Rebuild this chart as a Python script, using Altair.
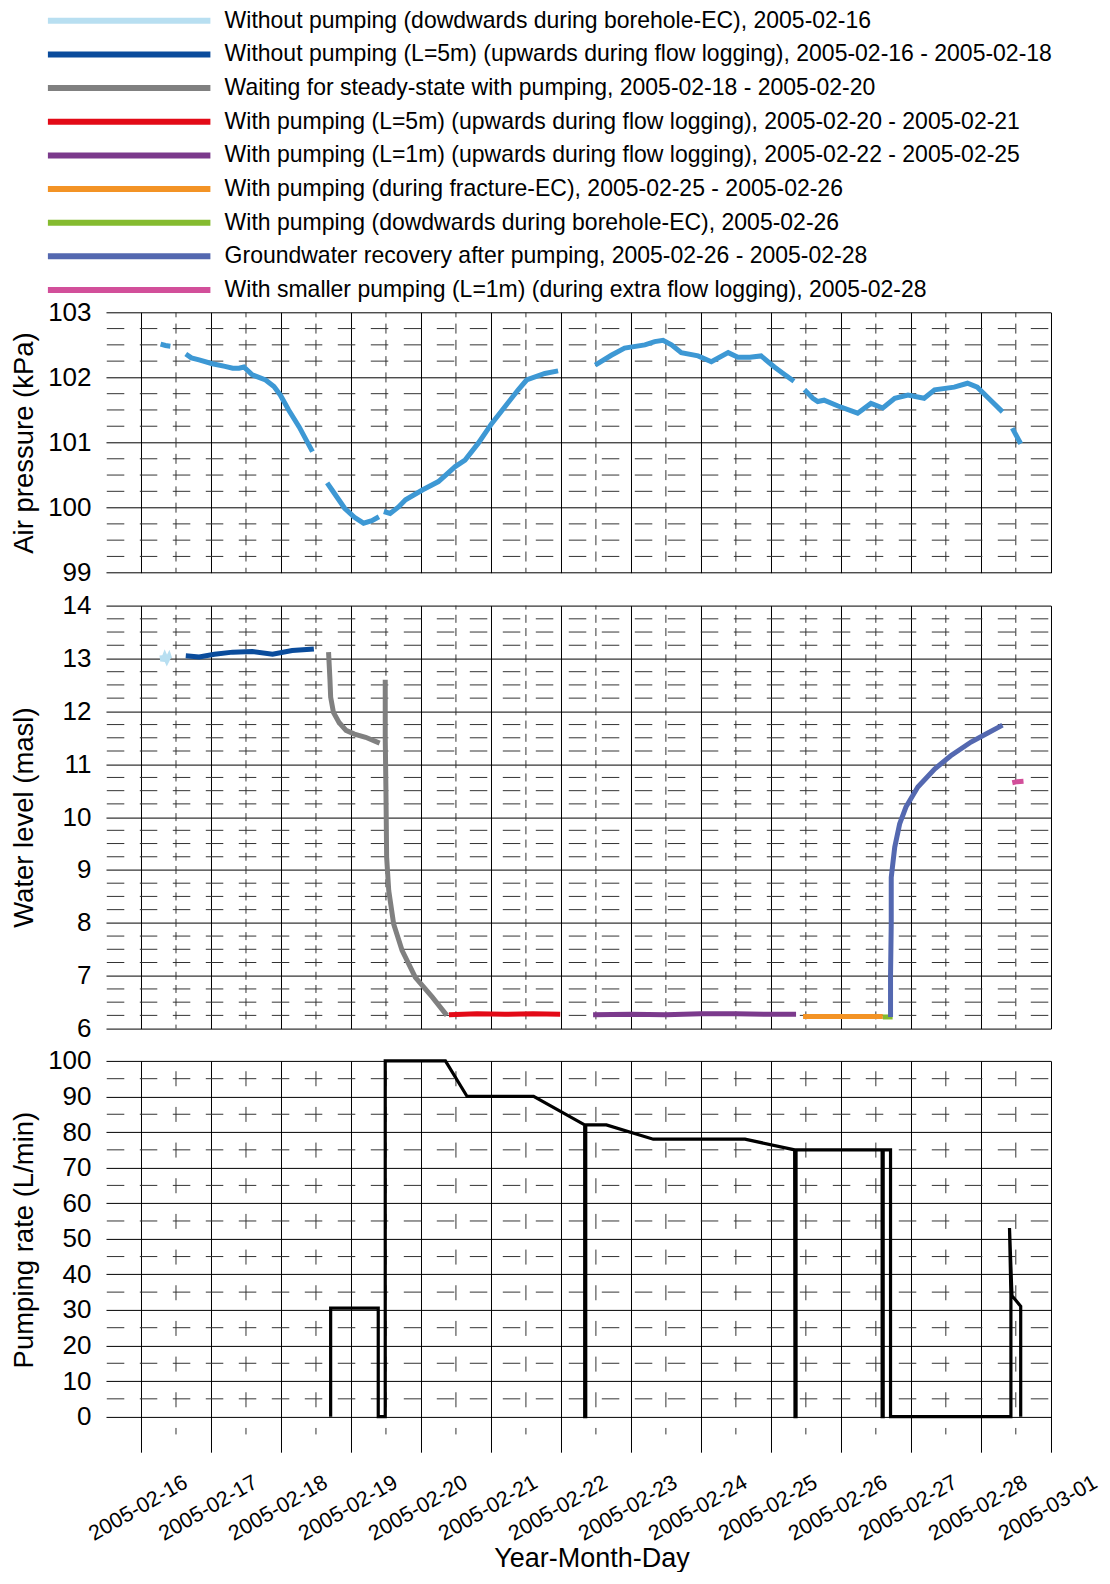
import altair as alt
import pandas as pd

FONT = "Liberation Sans"
MAJOR = "#000000"
MINOR = "#333333"
AIR_COLOR = "#3D98D4"

# ---------------- axis ticks ----------------
TICK_DATES = ["2005-02-16", "2005-02-17", "2005-02-18", "2005-02-19", "2005-02-20",
              "2005-02-21", "2005-02-22", "2005-02-23", "2005-02-24", "2005-02-25",
              "2005-02-26", "2005-02-27", "2005-02-28", "2005-03-01"]
HALF_DAY_DATES = ["2005-02-16T12:00", "2005-02-17T12:00", "2005-02-18T12:00", "2005-02-19T12:00",
                  "2005-02-20T12:00", "2005-02-21T12:00", "2005-02-22T12:00", "2005-02-23T12:00",
                  "2005-02-24T12:00", "2005-02-25T12:00", "2005-02-26T12:00", "2005-02-27T12:00",
                  "2005-02-28T12:00"]
X_START = "2005-02-15T12:00"
X_END = "2005-03-01T00:00"

AIR_TICKS = [99, 100, 101, 102, 103]
AIR_MINOR = [99.25, 99.5, 99.75, 100.25, 100.5, 100.75, 101.25, 101.5, 101.75, 102.25, 102.5, 102.75]
WATER_TICKS = [6, 7, 8, 9, 10, 11, 12, 13, 14]
WATER_MINOR = [6.25, 6.5, 6.75, 7.25, 7.5, 7.75, 8.25, 8.5, 8.75, 9.25, 9.5, 9.75, 10.25, 10.5, 10.75,
               11.25, 11.5, 11.75, 12.25, 12.5, 12.75, 13.25, 13.5, 13.75]
PUMP_TICKS = [0, 10, 20, 30, 40, 50, 60, 70, 80, 90, 100]
PUMP_MINOR = [5, 15, 25, 35, 45, 55, 65, 75, 85, 95]

# ---------------- air pressure (day of Feb 2005, kPa) ----------------
AIR_1 = [(16.28, 102.51), (16.35, 102.49), (16.42, 102.48)]
AIR_2 = [(16.64, 102.36), (16.72, 102.30), (16.83, 102.27), (17.02, 102.21), (17.20, 102.17),
         (17.31, 102.14), (17.40, 102.14), (17.47, 102.16), (17.59, 102.04), (17.78, 101.96),
         (17.90, 101.86), (17.99, 101.73), (18.11, 101.50), (18.26, 101.24), (18.45, 100.86)]
AIR_3 = [(18.66, 100.38), (18.73, 100.27), (18.91, 99.99), (19.05, 99.85), (19.18, 99.76),
         (19.30, 99.80), (19.40, 99.86)]
AIR_4 = [(19.47, 99.94), (19.56, 99.91), (19.68, 100.01), (19.78, 100.12), (20.02, 100.27),
         (20.25, 100.40), (20.49, 100.63), (20.63, 100.73), (20.82, 100.99), (21.01, 101.29),
         (21.20, 101.55), (21.39, 101.81), (21.51, 101.96), (21.77, 102.06), (21.96, 102.10)]
AIR_5 = [(22.49, 102.19), (22.72, 102.34), (22.91, 102.45), (23.20, 102.50), (23.34, 102.55),
         (23.46, 102.57), (23.58, 102.50), (23.72, 102.38), (23.96, 102.33), (24.15, 102.24),
         (24.39, 102.38), (24.53, 102.31), (24.70, 102.31), (24.86, 102.33), (25.05, 102.16),
         (25.20, 102.04), (25.33, 101.94)]
AIR_6 = [(25.48, 101.81), (25.60, 101.68), (25.67, 101.63), (25.76, 101.65), (25.96, 101.56),
         (26.24, 101.45), (26.43, 101.60), (26.60, 101.53), (26.77, 101.68), (26.96, 101.73),
         (27.19, 101.68), (27.34, 101.81), (27.62, 101.85), (27.81, 101.91), (27.95, 101.85),
         (28.14, 101.65), (28.31, 101.47)]
AIR_7 = [(28.45, 101.22), (28.57, 100.98)]
AIR_SEGMENTS = [AIR_1, AIR_2, AIR_3, AIR_4, AIR_5, AIR_6, AIR_7]

# ---------------- water level (day, masl) per series ----------------
SERIES_NAMES = [
    "Without pumping (dowdwards during borehole-EC), 2005-02-16",
    "Without pumping (L=5m) (upwards during flow logging), 2005-02-16 - 2005-02-18",
    "Waiting for steady-state with pumping, 2005-02-18 - 2005-02-20",
    "With pumping (L=5m) (upwards during flow logging), 2005-02-20 - 2005-02-21",
    "With pumping (L=1m) (upwards during flow logging), 2005-02-22 - 2005-02-25",
    "With pumping (during fracture-EC), 2005-02-25 - 2005-02-26",
    "With pumping (dowdwards during borehole-EC), 2005-02-26",
    "Groundwater recovery after pumping, 2005-02-26 - 2005-02-28",
    "With smaller pumping (L=1m) (during extra flow logging), 2005-02-28",
]
SERIES_COLORS = ["#B8DFF1", "#0A4C9C", "#808080", "#E30A17", "#7B3A8C",
                 "#F39325", "#85BB2F", "#5468B0", "#D24F9A"]

WL_EC_NOPUMP = [[(16.30, 13.06), (16.31, 12.95), (16.34, 13.05), (16.37, 12.96), (16.40, 13.04),
                 (16.41, 13.00)]]
WL_FLOW_NOPUMP = [[(16.64, 13.05), (16.83, 13.03), (17.05, 13.08), (17.31, 13.12), (17.59, 13.13),
                   (17.88, 13.08), (18.16, 13.15), (18.47, 13.18)]]
WL_WAITING = [
    [(18.68, 13.12), (18.70, 12.60), (18.71, 12.27), (18.75, 11.98), (18.83, 11.79),
     (18.93, 11.64), (19.05, 11.57), (19.21, 11.51), (19.41, 11.40)],
    [(19.49, 12.60), (19.49, 11.50), (19.50, 10.50), (19.51, 9.24), (19.54, 8.61),
     (19.61, 7.98), (19.73, 7.48), (19.92, 6.97), (20.16, 6.60), (20.37, 6.25)],
]
WL_FLOW_5M = [[(20.40, 6.26), (20.80, 6.28), (21.20, 6.27), (21.60, 6.28), (21.99, 6.27)]]
WL_FLOW_1M = [[(22.46, 6.26), (23.00, 6.27), (23.50, 6.26), (24.00, 6.28), (24.50, 6.28),
               (25.00, 6.27), (25.36, 6.27)]]
WL_FRACTURE_EC = [[(25.46, 6.23), (26.00, 6.23), (26.60, 6.23)]]
WL_EC_PUMP = [[(26.60, 6.22), (26.74, 6.22)]]
WL_RECOVERY = [[(26.71, 6.22), (26.71, 7.00), (26.72, 7.98), (26.72, 8.86), (26.77, 9.43),
                (26.84, 9.87), (26.93, 10.19), (27.10, 10.57), (27.34, 10.91), (27.57, 11.16),
                (27.86, 11.42), (28.10, 11.59), (28.31, 11.74)]]
WL_SMALL_PUMP = [[(28.45, 10.65), (28.52, 10.67), (28.61, 10.68)]]
WATER_SERIES = [WL_EC_NOPUMP, WL_FLOW_NOPUMP, WL_WAITING, WL_FLOW_5M, WL_FLOW_1M,
                WL_FRACTURE_EC, WL_EC_PUMP, WL_RECOVERY, WL_SMALL_PUMP]

# ---------------- pumping rate (day, L/min), in drawing order ----------------
PUMP_DAYS = [18.71, 18.71, 19.39, 19.39, 19.49, 19.49, 20.35, 20.66, 21.61, 22.34, 22.34,
             22.355, 22.355, 22.65, 23.32, 24.63, 25.34, 25.345, 25.36, 25.36, 26.59, 26.59,
             26.605, 26.605, 26.71, 26.71, 28.43, 28.43, 28.41, 28.445, 28.57, 28.57]
PUMP_RATE = [0, 30.5, 30.5, 0, 0, 100, 100, 90, 90, 82, 0,
             0, 82, 82, 78, 78, 75, 0, 0, 75, 75, 0,
             0, 75, 75, 0, 0, 34, 53, 34, 31, 0]


def feb(day):
    return pd.Timestamp("2005-02-01") + pd.Timedelta(days=day - 1)


def to_dt(s):
    ts = pd.Timestamp(s)
    return alt.DateTime(year=ts.year, month=ts.month, date=ts.day, hours=ts.hour)


air_rows = []
for k, seg in enumerate(AIR_SEGMENTS):
    for j, (d, v) in enumerate(seg):
        air_rows.append({"t": feb(d), "val": v, "seg": k, "i": j})
air_df = pd.DataFrame(air_rows)

water_rows = []
seg_id = 0
for name, segs in zip(SERIES_NAMES, WATER_SERIES):
    for seg in segs:
        for j, (d, v) in enumerate(seg):
            water_rows.append({"t": feb(d), "val": v, "series": name, "seg": seg_id, "i": j})
        seg_id += 1
water_df = pd.DataFrame(water_rows)

pump_df = pd.DataFrame({"t": [feb(d) for d in PUMP_DAYS], "val": PUMP_RATE,
                        "i": list(range(len(PUMP_DAYS)))})

legend_df = pd.DataFrame({"name": SERIES_NAMES})

W = 944.8
H_LEG = 272
H_AIR = 260.4
H_WATER = 423
H_PUMP = 391.3

X_SCALE = alt.Scale(domain=[to_dt(X_START), to_dt(X_END)])
AIR_Y = alt.Scale(domain=[99, 103], nice=False, zero=False)
WATER_Y = alt.Scale(domain=[6, 14], nice=False, zero=False)
PUMP_Y = alt.Scale(domain=[-10, 100], nice=False, zero=False)
COLOR_SCALE = alt.Scale(domain=SERIES_NAMES, range=SERIES_COLORS)

TICK_VALUES = [to_dt(s) for s in TICK_DATES]


def x_axis(with_labels):
    if with_labels:
        return alt.Axis(values=TICK_VALUES, format="%Y-%m-%d", labelAngle=330,
                        labelAlign="center", labelBaseline="middle", labelPadding=56,
                        labelOffset=-3,
                        labelFontSize=21.5, labelFont=FONT, labelColor="black",
                        labelFlush=False, labelOverlap=False,
                        ticks=False, tickSize=0, domain=False,
                        grid=True, gridColor=MAJOR, gridWidth=1,
                        title="Year-Month-Day", titleFont=FONT, titleFontSize=27,
                        titleFontWeight="normal", titleColor="black",
                        titleX=485.4, titleY=114, titleAngle=0,
                        titleAlign="center", titleBaseline="alphabetic")
    return alt.Axis(values=TICK_VALUES, labels=False, ticks=False, tickSize=0, domain=False,
                    grid=True, gridColor=MAJOR, gridWidth=1, title="")


def y_axis(values, title, title_y):
    return alt.Axis(values=values, format="d", grid=True, gridColor=MAJOR, gridWidth=1,
                    ticks=False, tickSize=0, domain=False,
                    labelFontSize=26, labelFont=FONT, labelColor="black", labelPadding=15,
                    title=title, titleFont=FONT, titleFontSize=27.5, titleFontWeight="normal",
                    titleColor="black", titleX=-73.6, titleY=title_y, titleAngle=270,
                    titleAlign="center", titleBaseline="alphabetic")


def panel(line_chart_mark, df, y_scale, x_ax, y_ax, minor_values, top, bottom, v_dash, v_offset,
          height, extra_enc=None):
    X = alt.X("t:T", scale=X_SCALE, axis=x_ax)
    Y = alt.Y("val:Q", scale=y_scale, axis=y_ax)
    h = alt.Chart(pd.DataFrame({"val": minor_values})).mark_rule(
        color=MINOR, strokeWidth=1, strokeDash=[17.5, 15.5], strokeDashOffset=30.5
    ).encode(y=Y)
    v = alt.Chart(pd.DataFrame({"t": pd.to_datetime(HALF_DAY_DATES),
                                "val": [top] * len(HALF_DAY_DATES),
                                "val2": [bottom] * len(HALF_DAY_DATES)})).mark_rule(
        color=MINOR, strokeWidth=1, strokeDash=v_dash, strokeDashOffset=v_offset
    ).encode(x=X, y=Y, y2="val2:Q")
    enc = {"x": X, "y": Y, "order": "i:Q"}
    if extra_enc:
        enc.update(extra_enc)
    line = alt.Chart(df).mark_line(**line_chart_mark).encode(**enc)
    return alt.layer(h, v, line).properties(width=W, height=height)


# ---------------- legend ----------------
LEG_Y = alt.Y("name:N", scale=alt.Scale(type="point", domain=SERIES_NAMES,
                                        range=[12.8, 282.0], padding=0), axis=None)
legend_rules = alt.Chart(legend_df).mark_rule(strokeWidth=6).encode(
    x=alt.value(-58.1), x2=alt.value(104.4), y=LEG_Y,
    color=alt.Color("name:N", scale=COLOR_SCALE, legend=None))
legend_text = alt.Chart(legend_df).mark_text(
    align="left", baseline="middle", fontSize=23, font=FONT, color="black"
).encode(x=alt.value(118.6), y=LEG_Y, text="name:N")
legend = alt.layer(legend_rules, legend_text).properties(width=W, height=H_LEG)

air = panel({"color": AIR_COLOR, "strokeWidth": 5}, air_df, AIR_Y, x_axis(False),
            y_axis(AIR_TICKS, "Air pressure (kPa)", H_AIR / 2),
            AIR_MINOR, 103, 99, [10, 6.28], 5, H_AIR, {"detail": "seg:N"})

water = panel({"strokeWidth": 5}, water_df, WATER_Y, x_axis(False),
              y_axis(WATER_TICKS, "Water level (masl)", H_WATER / 2),
              WATER_MINOR, 14, 6, [8, 5.22], 4, H_WATER,
              {"detail": "seg:N",
               "color": alt.Color("series:N", scale=COLOR_SCALE, legend=None)})

pump = panel({"color": "black", "strokeWidth": 3.2}, pump_df, PUMP_Y, x_axis(True),
             y_axis(PUMP_TICKS, "Pumping rate (L/min)", 178.7),
             PUMP_MINOR, 100, -5, [15, 20.67], 25.33, H_PUMP)

chart = alt.vconcat(legend, air, water, pump, spacing=32.3, bounds="flush").properties(
    padding={"left": 2, "top": 0, "right": 0, "bottom": 0}
).configure(font=FONT).configure_view(strokeWidth=0)

chart.save("out.html", embed_options={"renderer": "svg", "actions": False})
